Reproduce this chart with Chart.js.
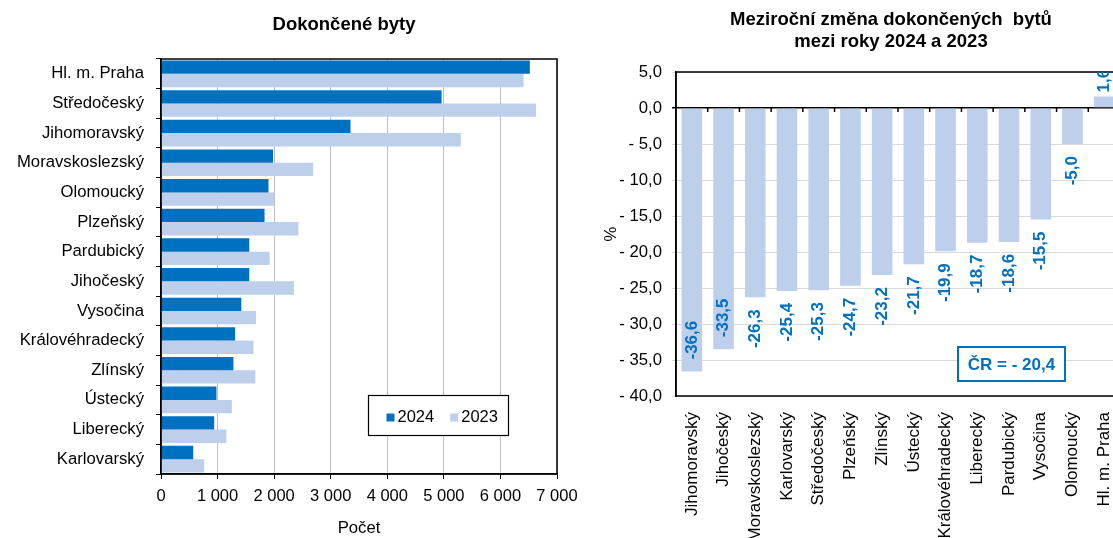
<!DOCTYPE html>
<html>
<head>
<meta charset="utf-8">
<script src="https://cdn.jsdelivr.net/npm/chart.js@4.4.1/dist/chart.umd.min.js"></script>
<style>
  html, body { margin: 0; padding: 0; background: #fff; overflow: hidden; }
  body { width: 1113px; height: 538px; position: relative; }
  .box { position: absolute; top: 0; height: 538px; }
  #leftBox { left: 0; width: 580px; }
  #rightBox { left: 590px; width: 560px; }
</style>
</head>
<body>
<div class="box" id="leftBox"><canvas id="bytyChart"></canvas></div>
<div class="box" id="rightBox"><canvas id="zmenaChart"></canvas></div>
<script>
// Dokončené byty podle krajů
const kraje = ['Hl. m. Praha', 'Středočeský', 'Jihomoravský', 'Moravskoslezský', 'Olomoucký', 'Plzeňský',
    'Pardubický', 'Jihočeský', 'Vysočina', 'Královéhradecký', 'Zlínský', 'Ústecký', 'Liberecký', 'Karlovarský'];
const byty2024 = [6520, 4960, 3350, 1980, 1900, 1830, 1560, 1560, 1420, 1310, 1280, 980, 940, 570];
const byty2023 = [6410, 6630, 5300, 2690, 2000, 2430, 1920, 2350, 1680, 1635, 1667, 1252, 1157, 764];

// Meziroční změna v %
const krajeZmena = ['Jihomoravský', 'Jihočeský', 'Moravskoslezský', 'Karlovarský', 'Středočeský', 'Plzeňský',
    'Zlínský', 'Ústecký', 'Královéhradecký', 'Liberecký', 'Pardubický', 'Vysočina', 'Olomoucký', 'Hl. m. Praha'];
const zmena = [-36.6, -33.5, -26.3, -25.4, -25.3, -24.7, -23.2, -21.7, -19.9, -18.7, -18.6, -15.5, -5.0, 1.6];
const zmenaCR = -20.4;

const modra = '#0070C0';
const svetla = '#BDCFEB';

Chart.defaults.font.family = '"Liberation Sans", Arial, sans-serif';
Chart.defaults.color = '#000';

function tisice(v) {
    return String(v).replace(/\B(?=(\d{3})+(?!\d))/g, ' ');
}

function procenta(v) {
    const t = Math.abs(v).toFixed(1).replace('.', ',');
    return v < 0 ? '- ' + t : t;
}

// rámeček kolem plochy grafu
const ramecek = {
    id: 'ramecek',
    afterDatasetsDraw(chart) {
        const a = chart.chartArea;
        const ctx = chart.ctx;
        ctx.save();
        ctx.strokeStyle = '#000';
        ctx.lineWidth = 1.5;
        ctx.strokeRect(a.left, a.top, a.right - a.left, a.bottom - a.top);
        ctx.restore();
    }
};

const nadpis = {
    id: 'nadpis',
    afterDraw(chart, args, opts) {
        const ctx = chart.ctx;
        ctx.save();
        ctx.font = 'bold 18.5px "Liberation Sans", Arial, sans-serif';
        ctx.fillStyle = '#000';
        ctx.textAlign = 'center';
        ctx.textBaseline = 'alphabetic';
        opts.lines.forEach((line, i) => {
            ctx.fillText(line, opts.x, opts.y + i * opts.step);
        });
        ctx.restore();
    }
};

const legendaBox = {
    id: 'legendaBox',
    afterDraw(chart, args, opts) {
        const ctx = chart.ctx;
        ctx.save();
        ctx.fillStyle = '#fff';
        ctx.fillRect(opts.x, opts.y, opts.w, opts.h);
        ctx.strokeStyle = '#000';
        ctx.lineWidth = 1.2;
        ctx.strokeRect(opts.x, opts.y, opts.w, opts.h);
        ctx.font = '16.5px "Liberation Sans", Arial, sans-serif';
        ctx.textBaseline = 'middle';
        ctx.textAlign = 'left';
        let x = opts.x + 18;
        const yMid = opts.y + opts.h / 2 + 2;
        chart.data.datasets.forEach(ds => {
            ctx.fillStyle = ds.backgroundColor;
            ctx.fillRect(x, yMid - 4, 8, 8);
            ctx.fillStyle = '#000';
            ctx.fillText(ds.label, x + 11, yMid);
            x += 11 + ctx.measureText(ds.label).width + 16;
        });
        ctx.restore();
    }
};

// popisky hodnot otočené o 90°
const hodnoty = {
    id: 'hodnoty',
    afterDatasetsDraw(chart) {
        const ctx = chart.ctx;
        const a = chart.chartArea;
        const meta = chart.getDatasetMeta(0);
        ctx.save();
        ctx.beginPath();
        ctx.rect(a.left, a.top, a.right - a.left, a.bottom - a.top);
        ctx.clip();
        ctx.font = 'bold 17px "Liberation Sans", Arial, sans-serif';
        ctx.fillStyle = modra;
        ctx.textBaseline = 'middle';
        meta.data.forEach((bar, i) => {
            const v = chart.data.datasets[0].data[i];
            const text = v.toFixed(1).replace('.', ',');
            const w = ctx.measureText(text).width;
            let y, align;
            if (v < 0) {
                if (bar.y + 12 + w < a.bottom) {
                    y = bar.y + 12; align = 'right';
                } else {
                    y = bar.y - 12; align = 'left';
                }
            } else {
                y = (bar.y - 12 - w < a.top) ? bar.y - 4 : bar.y - 12;
                align = 'left';
            }
            ctx.save();
            ctx.translate(bar.x, y);
            ctx.rotate(-Math.PI / 2);
            ctx.textAlign = align;
            ctx.fillText(text, 0, 0);
            ctx.restore();
        });
        ctx.restore();
    }
};

// malé značky na nulové ose mezi sloupci
const nulaZnacky = {
    id: 'nulaZnacky',
    afterDatasetsDraw(chart) {
        const ctx = chart.ctx;
        const xs = chart.scales.x;
        const y0 = chart.scales.y.getPixelForValue(0);
        ctx.save();
        ctx.strokeStyle = '#000';
        ctx.lineWidth = 1.5;
        for (let i = 1; i < chart.data.labels.length; i++) {
            const x = (xs.getPixelForValue(i - 1) + xs.getPixelForValue(i)) / 2;
            ctx.beginPath();
            ctx.moveTo(x, y0);
            ctx.lineTo(x, y0 + 4);
            ctx.stroke();
        }
        ctx.restore();
    }
};

const crBox = {
    id: 'crBox',
    afterDraw(chart, args, opts) {
        const ctx = chart.ctx;
        ctx.save();
        ctx.fillStyle = '#fff';
        ctx.fillRect(opts.x, opts.y, opts.w, opts.h);
        ctx.strokeStyle = modra;
        ctx.lineWidth = 2;
        ctx.strokeRect(opts.x, opts.y, opts.w, opts.h);
        ctx.font = 'bold 17px "Liberation Sans", Arial, sans-serif';
        ctx.fillStyle = modra;
        ctx.textAlign = 'center';
        ctx.textBaseline = 'middle';
        ctx.fillText('ČR = ' + procenta(zmenaCR), opts.x + opts.w / 2, opts.y + opts.h / 2 + 1);
        ctx.restore();
    }
};

new Chart(document.getElementById('bytyChart'), {
    type: 'bar',
    data: {
        labels: kraje,
        datasets: [
            { label: '2024', data: byty2024, backgroundColor: modra, categoryPercentage: 0.9, barPercentage: 1 },
            { label: '2023', data: byty2023, backgroundColor: svetla, categoryPercentage: 0.9, barPercentage: 1 }
        ]
    },
    options: {
        indexAxis: 'y',
        responsive: true,
        maintainAspectRatio: false,
        animation: false,
        layout: { padding: { top: 59, right: 23, bottom: 0, left: 0 } },
        plugins: {
            legend: { display: false },
            tooltip: { enabled: false },
            nadpis: { lines: ['Dokončené byty'], x: 344, y: 29.5, step: 22 },
            legendaBox: { x: 368.5, y: 395.5, w: 140, h: 40 }
        },
        scales: {
            x: {
                min: 0,
                max: 7000,
                ticks: { stepSize: 1000, callback: v => tisice(v), font: { size: 16.5 }, padding: 8, maxRotation: 0 },
                grid: { color: '#BFBFBF', tickColor: '#000', tickLength: 5 },
                border: { color: '#000', width: 1.5 },
                title: { display: true, text: 'Počet', font: { size: 16.7 }, padding: { top: 0, bottom: 0 } },
                afterFit: s => {
                    s.height = 64;
                    s.paddingLeft = 0;
                    s.paddingRight = 0;
                }
            },
            y: {
                ticks: { font: { size: 16.7 }, padding: 12, autoSkip: false },
                grid: { drawOnChartArea: false, tickColor: '#000', tickLength: 5 },
                border: { color: '#000', width: 1.5 },
                afterFit: s => { s.width = 161; }
            }
        }
    },
    plugins: [ramecek, nadpis, legendaBox]
});

new Chart(document.getElementById('zmenaChart'), {
    type: 'bar',
    data: {
        labels: krajeZmena,
        datasets: [
            { label: 'změna', data: zmena, backgroundColor: svetla, categoryPercentage: 0.65, barPercentage: 1 }
        ]
    },
    options: {
        responsive: true,
        maintainAspectRatio: false,
        animation: false,
        layout: { padding: { top: 72, right: 30, bottom: 0, left: 0 } },
        plugins: {
            legend: { display: false },
            tooltip: { enabled: false },
            nadpis: { lines: ['Meziroční změna dokončených  bytů', 'mezi roky 2024 a 2023'], x: 301, y: 25, step: 22 },
            crBox: { x: 368, y: 347, w: 107, h: 34 }
        },
        scales: {
            x: {
                grid: { display: false, drawTicks: false },
                border: { display: false },
                ticks: { font: { size: 17 }, minRotation: 90, maxRotation: 90, autoSkip: false, padding: 16 },
                afterFit: s => { s.height = 142; }
            },
            y: {
                min: -40,
                max: 5,
                ticks: { stepSize: 5, callback: v => procenta(v), font: { size: 16.7 }, padding: 10 },
                grid: {
                    color: c => (c.tick && c.tick.value === 0) ? '#000' : '#D9D9D9',
                    lineWidth: c => (c.tick && c.tick.value === 0) ? 1.5 : 1,
                    tickLength: 4
                },
                border: { color: '#000', width: 1.5 },
                title: { display: true, text: '%', font: { size: 16.7 }, padding: { top: 11, bottom: 0 } },
                afterFit: s => { s.width = 86; }
            }
        }
    },
    plugins: [ramecek, nulaZnacky, hodnoty, nadpis, crBox]
});
</script>
</body>
</html>
